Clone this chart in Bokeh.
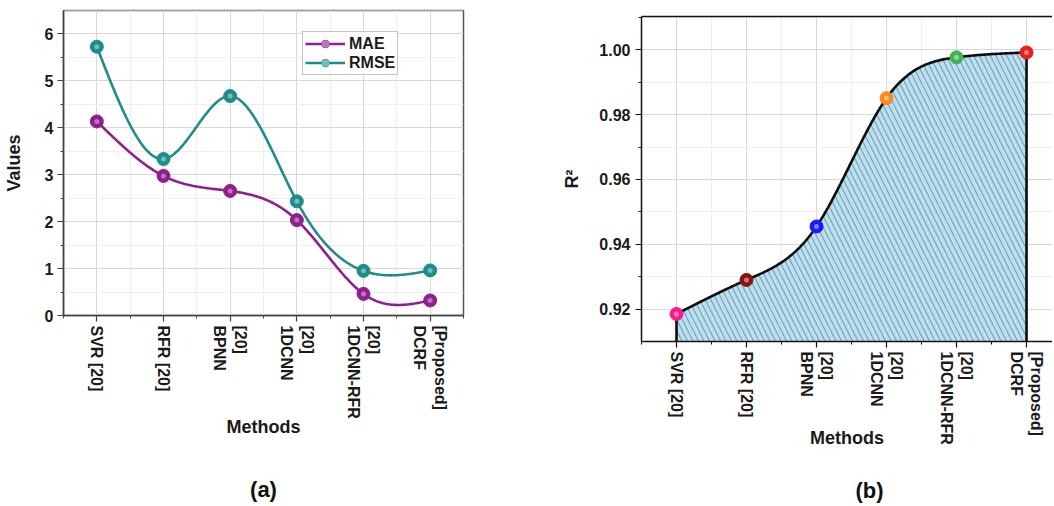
import numpy as np
from bokeh.plotting import figure
from bokeh.layouts import row, column
from bokeh.models import (FixedTicker, Range1d, LinearAxis, Title, Legend,
                          LegendItem, NumeralTickFormatter)
from bokeh.embed import file_html
from bokeh.resources import INLINE

# ---------------- data ----------------
methods = ["SVR [20]", "RFR [20]", "BPNN\n[20]", "1DCNN\n[20]",
           "1DCNN-RFR\n[20]", "DCRF\n[Proposed]"]
mae = [4.13, 2.97, 2.65, 2.03, 0.46, 0.32]
rmse = [5.72, 3.33, 4.67, 2.43, 0.95, 0.96]
r2 = [0.9185, 0.929, 0.9455, 0.9851, 0.9977, 0.9992]
r2_colors = ["#ff1a8c", "#8b1212", "#1a1aff", "#ff8a1a", "#3cb451", "#ee1c1c"]
value_ticks = [0, 1, 2, 3, 4, 5, 6]
r2_ticks = [0.92, 0.94, 0.96, 0.98, 1.00]

FONT = "Liberation Sans"
xs = list(range(len(methods)))


def natural_spline(x, y, n=300):
    """Natural cubic spline drawn through the data points (curve rendering)."""
    x = np.asarray(x, float)
    y = np.asarray(y, float)
    k = len(x)
    h = np.diff(x)
    A = np.zeros((k, k))
    b = np.zeros(k)
    A[0, 0] = A[-1, -1] = 1.0
    for i in range(1, k - 1):
        A[i, i - 1] = h[i - 1]
        A[i, i] = 2 * (h[i - 1] + h[i])
        A[i, i + 1] = h[i]
        b[i] = 6 * ((y[i + 1] - y[i]) / h[i] - (y[i] - y[i - 1]) / h[i - 1])
    M = np.linalg.solve(A, b)
    xd = np.linspace(x[0], x[-1], n)
    yd = np.empty_like(xd)
    for j, t in enumerate(xd):
        i = min(np.searchsorted(x, t, side="right") - 1, k - 2)
        a, c = x[i], x[i + 1]
        hi = c - a
        yd[j] = (M[i] * (c - t) ** 3 / (6 * hi) + M[i + 1] * (t - a) ** 3 / (6 * hi)
                 + (y[i] / hi - M[i] * hi / 6) * (c - t)
                 + (y[i + 1] / hi - M[i + 1] * hi / 6) * (t - a))
    return xd, yd


# rotated two-line labels: Bokeh stacks the lines in reverse visual order
label_overrides = {i: "\n".join(reversed(m.split("\n"))) for i, m in enumerate(methods)}


def style_axes(p, axis_color, label_standoff_x, label_standoff_y):
    for ax in (p.xaxis[0], p.yaxis[0]):
        ax.axis_line_color = axis_color
        ax.axis_line_width = 1.5
        ax.major_tick_line_color = axis_color
        ax.minor_tick_line_color = axis_color
        ax.major_tick_line_width = 1.2
        ax.major_tick_out = 6
        ax.major_tick_in = 0
        ax.minor_tick_out = 3
        ax.minor_tick_in = 0
        ax.major_label_text_font = FONT
        ax.major_label_text_font_style = "bold"
        ax.major_label_text_font_size = "16px"
        ax.major_label_text_color = "#1a1a1a"
        ax.axis_label_text_font = FONT
        ax.axis_label_text_font_style = "bold"
        ax.axis_label_text_font_size = "18px"
        ax.axis_label_text_color = "#1a1a1a"
    p.xaxis.major_label_orientation = "vertical"
    p.xaxis.major_label_overrides = label_overrides
    p.xaxis.axis_label_standoff = label_standoff_x
    p.yaxis.axis_label_standoff = label_standoff_y
    p.xgrid.grid_line_color = "#d9d9d9"
    p.xgrid.minor_grid_line_color = "#eeeeee"
    p.ygrid.grid_line_color = "#d9d9d9"
    p.ygrid.minor_grid_line_color = "#eeeeee"


def panel_title(text, align, offset, line_height):
    # leading empty line pushes the caption down inside its panel
    return Title(text="\n" + text, align=align, standoff=0, offset=offset,
                 text_font=FONT, text_font_style="bold", text_font_size="22px",
                 text_line_height=line_height, text_color="#111111")


half_ticks = [i - 0.5 for i in range(len(methods) + 1)]

# ---------------- (a) MAE / RMSE ----------------
p1 = figure(width=530, height=504, x_range=Range1d(-0.5, 5.5),
            y_range=Range1d(0, 6.49), output_backend="svg", title=None,
            toolbar_location=None, min_border_left=63, min_border_right=67,
            min_border_top=10, min_border_bottom=189, background_fill_color="white")
p1.outline_line_color = "#555555"
p1.outline_line_width = 1.5
p1.xaxis.ticker = FixedTicker(ticks=xs, minor_ticks=half_ticks)
p1.yaxis.ticker = FixedTicker(ticks=value_ticks,
                              minor_ticks=[t + 0.5 for t in value_ticks])
p1.xaxis.axis_label = "Methods"
p1.yaxis.axis_label = "Values"
style_axes(p1, "#444444", -5, 18)
p1.xaxis.major_label_standoff = 4
p1.yaxis.major_label_standoff = 4

items = []
for name, vals, col, hl in (("MAE", mae, "#8e1f8e", "#c98bc9"),
                            ("RMSE", rmse, "#1f8c8a", "#86cbc8")):
    xd, yd = natural_spline(xs, vals)
    ln = p1.line(xd, yd, line_color=col, line_width=2.6)
    sc = p1.scatter(xs, vals, size=13, fill_color=col, line_color=col, line_width=1)
    hs = p1.scatter(xs, vals, size=5, fill_color=hl, line_color=None, fill_alpha=0.8)
    items.append(LegendItem(label=name, renderers=[ln, sc, hs]))

legend = Legend(items=items, location=(239, 240), padding=2, margin=0,
                spacing=0, glyph_width=40, glyph_height=19, label_height=19,
                label_standoff=4, border_line_color="#8a8a8a",
                border_line_width=1, background_fill_color="white",
                background_fill_alpha=1.0, label_text_font=FONT,
                label_text_font_style="bold", label_text_font_size="16px",
                label_text_color="#1a1a1a")
p1.add_layout(legend)
p1.add_layout(panel_title("(a)", "center", 0, 1.4), "below")

# ---------------- (b) R^2 ----------------
ybot = 0.91
p2 = figure(width=522, height=504, x_range=Range1d(-0.5, 5.371),
            y_range=Range1d(ybot, 1.0103), output_backend="svg", title=None,
            toolbar_location=None, min_border_left=111, min_border_right=0,
            min_border_top=16, min_border_bottom=163, background_fill_color="white")
p2.outline_line_color = None
p2.xaxis.ticker = FixedTicker(ticks=xs, minor_ticks=half_ticks)
p2.yaxis.ticker = FixedTicker(ticks=r2_ticks,
                              minor_ticks=[round(t + 0.01, 3) for t in r2_ticks])
p2.yaxis.formatter = NumeralTickFormatter(format="0.00")
p2.xaxis.axis_label = "Methods"
p2.yaxis.axis_label = "R²"
style_axes(p2, "#111111", -20, 14)
p2.xaxis.major_label_standoff = 4
p2.yaxis.major_label_standoff = 5

top = LinearAxis(ticker=FixedTicker(ticks=[]), axis_line_color="#111111",
                 axis_line_width=1.5, major_tick_line_color=None,
                 minor_tick_line_color=None, major_label_text_font_size="0px",
                 major_label_standoff=0, major_tick_out=0, major_tick_in=0)
p2.add_layout(top, "above")

xd, yd = natural_spline(xs, r2)
p2.varea(x=xd, y1=ybot, y2=yd, fill_color="#b8e0f2", fill_alpha=1.0,
         hatch_pattern="left_diagonal_line", hatch_color="#3a4c58",
         hatch_alpha=0.7, hatch_scale=11, hatch_weight=0.8)
p2.line(xd, yd, line_color="#0d0d0d", line_width=2.6)
p2.segment(x0=[xs[0], xs[-1]], y0=[ybot, ybot], x1=[xs[0], xs[-1]],
           y1=[r2[0], r2[-1]], line_color="#0d0d0d", line_width=2.6)
p2.scatter(xs, r2, size=13, fill_color=r2_colors, line_color=r2_colors, line_width=1)
p2.scatter(xs, r2, size=5, fill_color="white", line_color=None, fill_alpha=0.45)
p2.add_layout(panel_title("(b)", "left", 214, 1.0), "below")

layout = row(column(p1), column(p2))
open("out.html", "w").write(file_html(layout, INLINE))
